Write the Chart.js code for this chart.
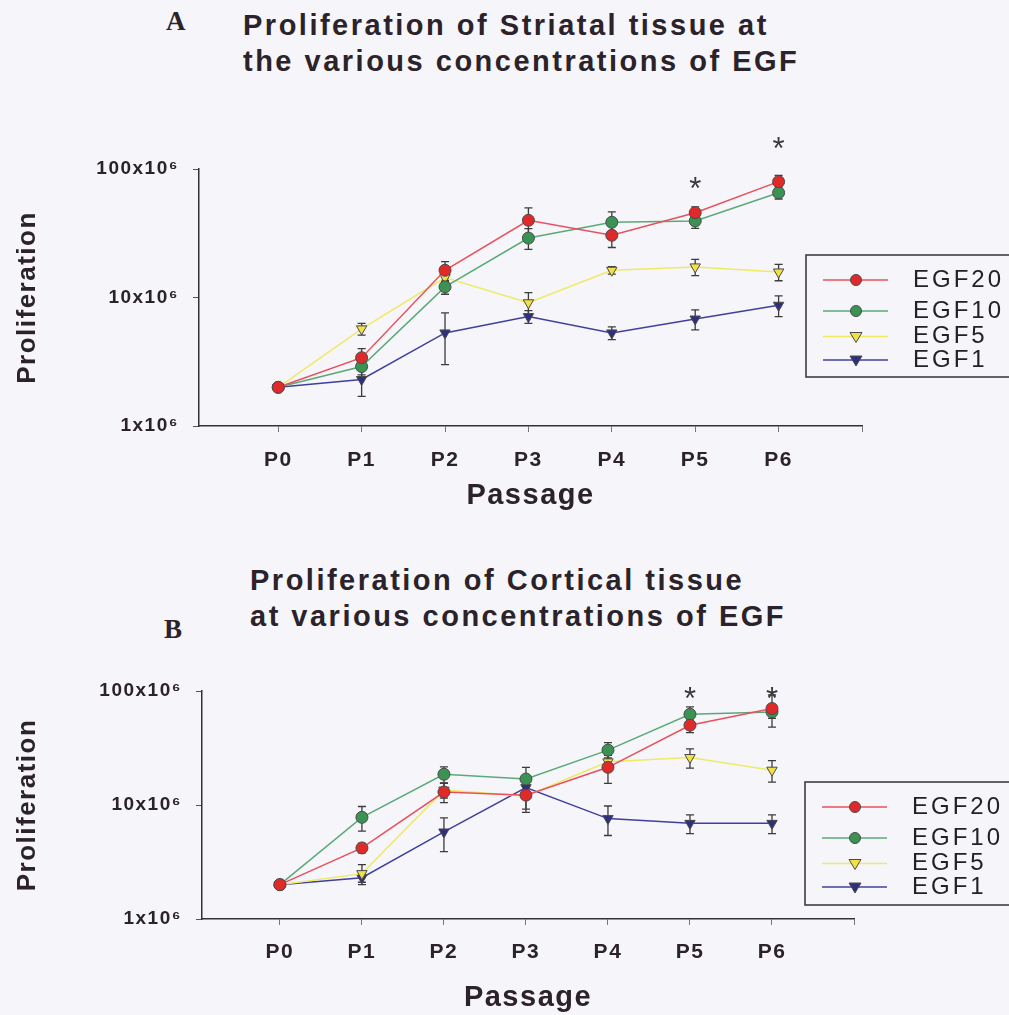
<!DOCTYPE html>
<html>
<head>
<meta charset="utf-8">
<script src="https://cdn.jsdelivr.net/npm/chart.js@4.4.1/dist/chart.umd.min.js"></script>
<style>
  body { margin: 0; width: 1009px; height: 1015px; overflow: hidden; position: relative; background: #f5f5fa; }
  .ttl { position: absolute; font-family: "Liberation Sans", Arial, sans-serif; font-weight: bold;
         font-size: 29px; letter-spacing: 2.5px; line-height: 36px; color: #2b2329; white-space: nowrap; }
  .lt { position: absolute; font-family: "Liberation Serif", "Times New Roman", serif; font-weight: bold; font-size: 27px; color: #2b2329; }
  canvas { position: absolute; left: 0; }
</style>
</head>
<body>
<div class="lt" style="left:166px;top:6px">A</div>
<div class="ttl" style="left:243px;top:7px">Proliferation of Striatal tissue at<br>the various concentrations of EGF</div>
<div class="ttl" style="left:250px;top:562px">Proliferation of Cortical tissue<br>at various concentrations of EGF</div>
<div class="lt" style="left:164px;top:614px">B</div>
<canvas id="chartA" width="1009" height="400" style="top:130px"></canvas>
<canvas id="chartB" width="1009" height="375" style="top:640px"></canvas>
<script>
// passages and series
const passages = ["P0", "P1", "P2", "P3", "P4", "P5", "P6"];
const seriesNames = ["EGF20", "EGF10", "EGF5", "EGF1"];
const yTicks = [1, 10, 100]; // x10^6 cells

// A - striatal tissue (x10^6 cells), mean and error
const striatal20 = [2.0, 3.4, 16.3, 39.9, 30.5, 45.7, 79.7];
const striatal10 = [2.0, 2.9, 12.1, 29.0, 38.5, 39.4, 65.4];
const striatal5  = [2.0, 5.7, 14.3, 9.1, 16.3, 17.3, 15.8];
const striatal1  = [2.0, 2.3, 5.3, 7.1, 5.3, 6.8, 8.7];
const striatalErr20 = [0, 0.6, 2.7, 10, 6, 5, 9.6];
const striatalErr10 = [0, 0.4, 1.5, 5.3, 7.8, 4.9, 7];
const striatalErr5  = [0, 0.6, 1, 1.8, 1.1, 2.5, 2.3];
const striatalErr1  = [0, 0.6, 2.3, 0.8, 0.6, 1.2, 1.6];
const striatalStarIdx = [5, 6];
const striatalStarVal = [78, 159];

// B - cortical tissue
const cortical20 = [2.0, 4.2, 13.0, 12.2, 21.4, 50.1, 70.2];
const cortical10 = [2.0, 7.8, 18.6, 16.9, 30.3, 62.5, 65.5];
const cortical5  = [2.0, 2.5, 13.5, 12.0, 23.9, 26.1, 20.2];
const cortical1  = [2.0, 2.3, 5.8, 14.2, 7.6, 6.9, 6.9];
const corticalErr20 = [0, 0.4, 2.5, 3.6, 5.9, 7, 22];
const corticalErr10 = [0, 1.9, 3, 4.5, 5, 10, 8];
const corticalErr5  = [0, 0.5, 2, 2.8, 2, 5, 4.3];
const corticalErr1  = [0, 0.2, 1.9, 1.5, 2.2, 1.3, 1.3];
const corticalStarIdx = [5, 6];
const corticalStarVal = [96, 96];

const FONT = '"Liberation Sans", Arial, sans-serif';
const INK = "#2b2329";

const styles = [
  { line: "#e8505c", fill: "#e02a2a", shape: "circle", r: 6 },
  { line: "#5aaa78", fill: "#3a9352", shape: "circle", r: 6 },
  { line: "#eeea66", fill: "#f2e048", shape: "triangle", r: 6 },
  { line: "#40409c", fill: "#2f2f80", shape: "triangle", r: 6 }
];

function makeDatasets(values, errors) {
  return values.map((vals, k) => ({
    label: seriesNames[k],
    data: vals.map((v, i) => ({ x: i, y: v })),
    errors: errors[k],
    borderColor: styles[k].line,
    borderWidth: 1.5,
    pointStyle: styles[k].shape,
    rotation: styles[k].shape === "triangle" ? 180 : 0,
    pointRadius: styles[k].r,
    pointBackgroundColor: styles[k].fill,
    pointBorderColor: "#4a4a4a",
    pointBorderWidth: 1,
    tension: 0
  }));
}

// the scanned figure has widely spaced lettering
const spacing = {
  id: "spacing",
  beforeUpdate(chart) { chart.ctx.letterSpacing = "1.5px"; },
  beforeDraw(chart) { chart.ctx.letterSpacing = "1.5px"; }
};

// error bars under the lines
const errorBars = {
  id: "errorBars",
  beforeDatasetsDraw(chart) {
    const ctx = chart.ctx, xs = chart.scales.x, ys = chart.scales.y;
    ctx.save();
    ctx.strokeStyle = "#3c3c3c";
    ctx.lineWidth = 1.3;
    chart.data.datasets.forEach(ds => {
      ds.data.forEach((p, i) => {
        const e = ds.errors[i];
        if (!e) return;
        const px = xs.getPixelForValue(p.x);
        const top = ys.getPixelForValue(p.y + e);
        const bot = ys.getPixelForValue(Math.max(p.y - e, 0.05));
        ctx.beginPath();
        ctx.moveTo(px, top); ctx.lineTo(px, bot);
        ctx.moveTo(px - 4, top); ctx.lineTo(px + 4, top);
        ctx.moveTo(px - 4, bot); ctx.lineTo(px + 4, bot);
        ctx.stroke();
      });
    });
    ctx.restore();
  }
};

// significance asterisks and boxed legend
const extras = {
  id: "extras",
  afterDraw(chart, args, opts) {
    const ctx = chart.ctx, xs = chart.scales.x, ys = chart.scales.y;
    ctx.save();
    ctx.letterSpacing = "0px";
    ctx.fillStyle = "#3a3a3a";
    ctx.font = "31px " + FONT;
    ctx.textAlign = "center";
    ctx.textBaseline = "alphabetic";
    const m = ctx.measureText("*");
    const mid = (m.actualBoundingBoxAscent - m.actualBoundingBoxDescent) / 2;
    opts.starIdx.forEach((idx, i) => {
      ctx.fillText("*", xs.getPixelForValue(idx), ys.getPixelForValue(opts.starVal[i]) + mid);
    });

    const b = opts.box;
    ctx.strokeStyle = "#333";
    ctx.lineWidth = 1.5;
    ctx.strokeRect(b.left, b.top, 400, b.height);
    ctx.font = "24px " + FONT;
    ctx.letterSpacing = "3px";
    ctx.textAlign = "left";
    ctx.textBaseline = "middle";
    chart.data.datasets.forEach((ds, k) => {
      const y = b.top + opts.rows[k];
      ctx.strokeStyle = ds.borderColor;
      ctx.lineWidth = 1.5;
      ctx.beginPath();
      ctx.moveTo(b.left + 17, y); ctx.lineTo(b.left + 82, y);
      ctx.stroke();
      const cx = b.left + 50;
      ctx.fillStyle = ds.pointBackgroundColor;
      ctx.strokeStyle = "#4a4a4a";
      ctx.lineWidth = 1;
      ctx.beginPath();
      if (ds.pointStyle === "circle") {
        ctx.arc(cx, y, 5.5, 0, Math.PI * 2);
      } else {
        ctx.moveTo(cx - 6, y - 4); ctx.lineTo(cx + 6, y - 4); ctx.lineTo(cx, y + 6); ctx.closePath();
      }
      ctx.fill(); ctx.stroke();
      ctx.fillStyle = "#222";
      ctx.fillText(ds.label, b.left + 107, y);
    });
    ctx.restore();
  }
};

function makeChart(id, values, errors, cfg) {
  return new Chart(document.getElementById(id), {
    type: "line",
    data: { datasets: makeDatasets(values, errors) },
    plugins: [spacing, errorBars, extras],
    options: {
      responsive: false,
      animation: false,
      layout: { padding: { top: cfg.top, right: cfg.right, left: 0, bottom: 0 } },
      plugins: {
        legend: { display: false },
        tooltip: { enabled: false },
        extras: { starIdx: cfg.starIdx, starVal: cfg.starVal, box: cfg.box, rows: [25, 56, 81.5, 105] }
      },
      scales: {
        x: {
          type: "linear",
          min: -0.95,
          max: 7,
          afterBuildTicks: s => { s.ticks = passages.map((p, i) => ({ value: i })).concat([{ value: 7 }]); },
          afterFit: s => { s.height = cfg.xHeight; },
          ticks: {
            callback: v => passages[v] ?? "",
            font: { family: FONT, size: 21, weight: "bold" },
            color: INK,
            padding: cfg.xPad,
            maxRotation: 0,
            autoSkip: false
          },
          grid: { drawOnChartArea: false, tickLength: 6, color: "#777" },
          border: { color: "#333", width: 1.5 },
          title: {
            display: true, text: "Passage", color: INK,
            font: { family: FONT, size: 29, weight: "bold" },
            padding: { top: 0, bottom: cfg.titlePad }
          }
        },
        y: {
          type: "logarithmic",
          min: 1,
          max: 100,
          afterBuildTicks: s => { s.ticks = yTicks.map(v => ({ value: v })); },
          afterFit: s => { s.width = cfg.yWidth; },
          ticks: {
            callback: v => v + "x10\u2076",
            font: { family: FONT, size: 19, weight: "bold" },
            color: INK,
            padding: 14
          },
          grid: { drawOnChartArea: false, tickLength: 6, color: "#555" },
          border: { color: "#333", width: 1.5 },
          title: {
            display: true, text: "Proliferation", color: INK,
            font: { family: FONT, size: 26, weight: "bold" },
            padding: { top: 12, bottom: 0 }
          }
        }
      }
    }
  });
}

makeChart("chartA",
  [striatal20, striatal10, striatal5, striatal1],
  [striatalErr20, striatalErr10, striatalErr5, striatalErr1],
  { top: 39, right: 147, yWidth: 199, xHeight: 104, xPad: 16, titlePad: 17,
    starIdx: striatalStarIdx, starVal: striatalStarVal, box: { left: 806, top: 125, height: 122 } });

makeChart("chartB",
  [cortical20, cortical10, cortical5, cortical1],
  [corticalErr20, corticalErr10, corticalErr5, corticalErr1],
  { top: 51, right: 155, yWidth: 202, xHeight: 96, xPad: 15, titlePad: 0,
    starIdx: corticalStarIdx, starVal: corticalStarVal, box: { left: 805, top: 142, height: 123 } });
</script>
</body>
</html>
